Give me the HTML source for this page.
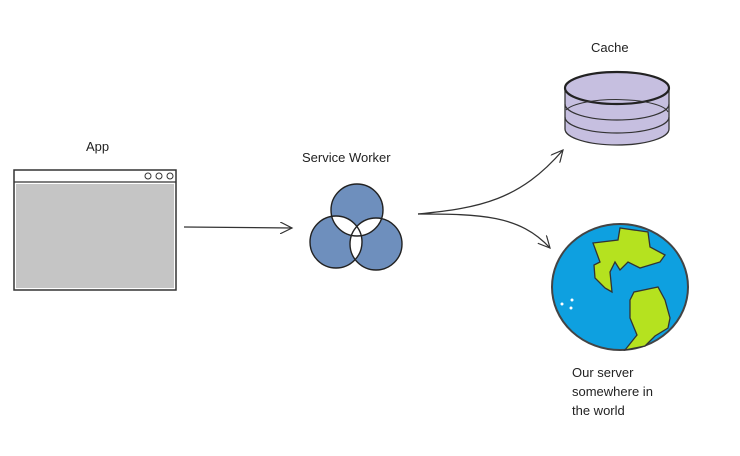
<!DOCTYPE html>
<html><head><style>
html,body{margin:0;padding:0;background:#fff;}
svg{display:block}
text{font-family:"Liberation Sans",sans-serif;font-size:13px;fill:#222;}
</style></head><body>
<svg width="740" height="456" viewBox="0 0 740 456">
<defs>
<marker id="ah" markerWidth="14" markerHeight="12" refX="12" refY="6" orient="auto" markerUnits="userSpaceOnUse">
<path d="M0,0 L12,6 L0,12" fill="none" stroke="#333" stroke-width="1.2"/>
</marker>
</defs>
<text x="86" y="151">App</text>
<rect x="14" y="170" width="162" height="120" fill="#fff" stroke="#333" stroke-width="1.5"/>
<rect x="16" y="184" width="158" height="104" fill="#c5c5c5"/>
<line x1="14" y1="182" x2="176" y2="182" stroke="#333" stroke-width="1.3"/>
<circle cx="148" cy="176" r="3" fill="none" stroke="#333"/>
<circle cx="159" cy="176" r="3" fill="none" stroke="#333"/>
<circle cx="170" cy="176" r="3" fill="none" stroke="#333"/>
<path d="M184,227 L292,228" fill="none" stroke="#333" stroke-width="1.3" marker-end="url(#ah)"/>
<text x="302" y="162">Service Worker</text>
<clipPath id="c1"><circle cx="357" cy="210" r="26"/></clipPath>
<clipPath id="c2"><circle cx="336" cy="242" r="26"/></clipPath>
<g fill="#6e8fbd">
<circle cx="357" cy="210" r="26"/>
<circle cx="336" cy="242" r="26"/>
<circle cx="376" cy="244" r="26"/>
</g>
<g clip-path="url(#c1)"><circle cx="336" cy="242" r="26" fill="#fff"/><circle cx="376" cy="244" r="26" fill="#fff"/></g>
<g clip-path="url(#c2)"><circle cx="376" cy="244" r="26" fill="#fff"/></g>
<g fill="none" stroke="#222" stroke-width="1.4">
<circle cx="357" cy="210" r="26"/>
<circle cx="336" cy="242" r="26"/>
<circle cx="376" cy="244" r="26"/>
</g>
<path d="M418,214 C480,208 520,200 563,150" fill="none" stroke="#333" stroke-width="1.3" marker-end="url(#ah)"/>
<path d="M418,214 C480,214 520,215 550,248" fill="none" stroke="#333" stroke-width="1.3" marker-end="url(#ah)"/>
<text x="591" y="52">Cache</text>
<path d="M565,88 L565,129 A52,16 0 0 0 669,129 L669,88 Z" fill="#c6bfe0" stroke="#333" stroke-width="1.3"/>
<ellipse cx="617" cy="88" rx="52" ry="16" fill="#c6bfe0" stroke="#222" stroke-width="2.2"/>
<path d="M565,104 A52,16 0 0 0 669,104" fill="none" stroke="#333" stroke-width="1.2"/>
<path d="M566,110 A52,14 0 0 1 668,112" fill="none" stroke="#333" stroke-width="1"/>
<path d="M565,117 A52,16 0 0 0 669,117" fill="none" stroke="#333" stroke-width="1.2"/>
<ellipse cx="620" cy="287" rx="68" ry="63" fill="#0ea0e0" stroke="#444" stroke-width="2"/>
<path d="M593,243 L618,240 L620,228 L648,232 L650,247 L665,255 L660,262 L640,268 L628,262 L620,270 L615,262 L610,272 L612,292 L605,288 L595,278 L594,265 L600,262 Z" fill="#b5e21f" stroke="#333" stroke-width="1.3"/>
<path d="M634,292 L658,287 L665,300 L670,318 L668,328 L655,336 L645,346 L625,350 L637,335 L630,318 L630,300 Z" fill="#b5e21f" stroke="#333" stroke-width="1.3"/>
<circle cx="562" cy="304" r="1.5" fill="#fff"/><circle cx="572" cy="300" r="1.5" fill="#fff"/><circle cx="571" cy="308" r="1.5" fill="#fff"/>
<text x="572" y="377">Our server</text>
<text x="572" y="396">somewhere in</text>
<text x="572" y="415">the world</text>
</svg>
</body></html>
